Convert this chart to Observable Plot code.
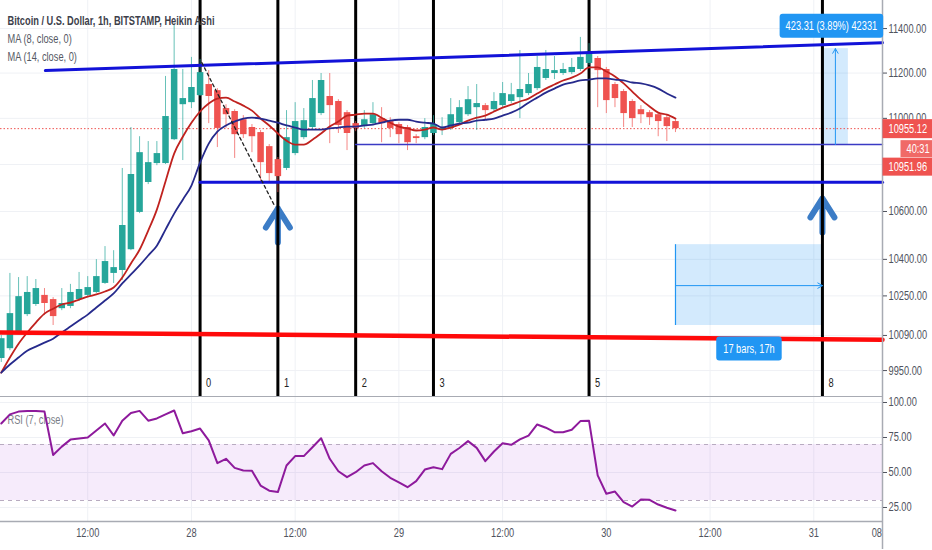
<!DOCTYPE html>
<html>
<head>
<meta charset="utf-8">
<script src="https://cdn.jsdelivr.net/npm/d3@7"></script>
<script src="https://cdn.jsdelivr.net/npm/@observablehq/plot@0.6"></script>
<style>
  html, body { margin: 0; padding: 0; background: #fff; }
  #chart { width: 932px; height: 550px; overflow: hidden; }
  #chart svg { display: block; }
</style>
</head>
<body>
<div id="chart"></div>
<script>
// ---------- DATA (hourly Heikin Ashi candles, index 0 = 27th 02:00) ----------
const candleOpen = [9998,10037,10102,10174,10215,10252,10235,10198,10207,10235,
  10252,10264,10301,10342,10354,10440,10596,10723,10804,10804,
  10907,11060,11069,11100,11149,11122,11043,11030,10994,10960,
  10938,10877,10821,10783,10847,10916,10960,11021,11096,11074,
  11025,10977,10964,10977,10999,10986,10973,10960,10920,10916,
  10934,10947,10956,10981,11016,11047,11056,11038,11056,11074,
  11091,11109,11131,11176,11198,11198,11202,11216,11243,11265,
  11216,11149,11118,11074,11038,11025,11016,11003,10986];
const candleClose = [10077,10178,10247,10264,10280,10219,10166,10219,10264,10276,
  10284,10329,10391,10366,10541,10757,10851,10808,10847,11008,
  11216,11087,11136,11202,11096,10956,11016,10929,10929,10920,
  10808,10761,10748,10916,10986,10990,11087,11167,11056,10969,
  10934,10956,10994,11016,10977,10956,10929,10894,10912,10960,
  10973,10956,11016,11047,11082,11065,11034,11074,11109,11104,
  11127,11149,11225,11216,11211,11216,11225,11270,11288,11211,
  11078,11087,11021,10999,11016,11003,10986,10964,10955];
const candleHigh = [10090,10342,10325,10329,10317,10280,10243,10280,10297,10346,
  10329,10399,10453,10436,10783,10960,10920,10899,10899,11185,
  11414,11216,11270,11261,11211,11131,11060,11038,11012,10973,
  10947,10886,10830,11034,11069,11043,11167,11198,11198,11082,
  11034,10986,11034,11069,11047,11003,10981,10969,10929,10999,
  11012,11003,11087,11078,11140,11149,11065,11113,11158,11154,
  11301,11198,11274,11301,11274,11243,11265,11360,11332,11274,
  11225,11158,11127,11082,11056,11034,11025,11012,10994];
const candleLow = [9982,10029,10094,10166,10207,10170,10130,10190,10198,10227,
  10243,10260,10297,10301,10313,10436,10591,10714,10795,10800,
  10903,10817,11043,11096,10977,10873,10956,10826,10912,10851,
  10719,10723,10680,10774,10838,10907,10951,11012,10890,10934,
  10860,10942,10956,10969,10894,10916,10890,10860,10890,10907,
  10925,10925,10947,10973,11008,10947,10994,11030,11047,11065,
  10999,11100,11122,11167,11171,11189,11193,11207,11234,11047,
  11021,11047,10960,10960,10977,10969,10920,10899,10938];
const ma8 = [9942,10002,10057,10102,10142,10178,10198,10215,10223,10235,
  10247,10256,10268,10284,10325,10383,10440,10520,10608,10727,
  10847,10920,10981,11030,11065,11087,11091,11074,11056,11034,
  10999,10969,10934,10903,10886,10886,10907,10934,10964,10986,
  11012,11016,11021,11021,11003,10981,10964,10956,10947,10951,
  10960,10951,10960,10973,10990,11003,11012,11030,11047,11060,
  11074,11087,11109,11131,11149,11167,11180,11198,11225,11225,
  11207,11185,11154,11118,11082,11052,11025,11016,10999];
const ma14 = [9942,9974,10002,10029,10045,10061,10077,10102,10126,10150,
  10174,10203,10231,10260,10301,10338,10375,10416,10457,10524,
  10591,10650,10710,10808,10890,10942,10969,10986,10999,11003,
  10999,10990,10981,10969,10960,10951,10951,10951,10956,10960,
  10964,10964,10969,10973,10981,10990,10994,10994,10986,10981,
  10977,10960,10969,10977,10981,10990,10994,10999,11012,11025,
  11043,11069,11091,11113,11131,11149,11158,11167,11171,11176,
  11176,11171,11167,11158,11154,11145,11131,11109,11091];
const rsi7 = [85,91.5,93.5,94,94,93.5,62.5,68.5,73.5,74.3,
  75,80,85,76.5,87,92.5,94,87,88.6,91.5,
  94.3,78,79.5,81.4,73,56.7,59.8,53.3,51.4,51.2,
  40.7,37,36,55,61.7,61.7,68,74.5,59.8,50.9,
  46.7,50.2,55,56.7,50.9,46.2,43,39.5,43.8,52.1,
  53.8,52.4,63.3,67.5,72.4,67.6,58.1,65,70.9,69.8,
  73.6,76.4,84.3,82,78.8,78.8,80.5,86.7,86.9,47.9,
  34.8,36.4,28.8,25.7,30.7,30.5,27.1,24.8,22.9];

const timeTickIdx = [10, 22, 34, 46, 58, 70, 82, 94];
const timeTickLabels = ["12:00", "28", "12:00", "29", "12:00", "30", "12:00", "31"];
const lastTickIdx = 102, lastTickLabel = "08";
const priceTicks = [11400, 11200, 11000, 10800, 10600, 10400, 10250, 10090, 9950];
const rsiTicks = [100, 75, 50, 25];
const rsiBand = [30, 70];
const fibIndex = [23, 32, 41, 50, 68, 95];
const fibLabels = ["0", "1", "2", "3", "5", "8"];

const topTrend = [{i: 5.1, p: 11211}, {i: 101.95, p: 11336}];
const supportLine = [{i: 23, p: 10724}, {i: 101.95, p: 10724}];
const neckLine = [{i: 41, p: 10886}, {i: 101.95, p: 10886}];
const redTrend = [{i: -0.09, p: 10102}, {i: 101.95, p: 10073}];
const dashedPath = [{i: 23.2, p: 11247}, {i: 31.6, p: 10625}];
const upArrows = [{i: 32, p: 10470}, {i: 95, p: 10512}];
const priceMeasure = {i1: 95, i2: 98, p1: 10886, p2: 11309.31, label: "423.31 (3.89%) 42331"};
const barsMeasure = {i1: 78, i2: 95, p1: 10130, p2: 10461, pm: 10292, label: "17 bars, 17h"};
const lastPrice = 10955.12, countdown = "40:31", secondPrice = 10951.96;
const titleLines = ["Bitcoin / U.S. Dollar, 1h, BITSTAMP, Heikin Ashi", "MA (8, close, 0)", "MA (14, close, 0)"];

// ---------- VIEW ----------
const timeView = [-0.09, 101.95];
const priceView = [9844, 11528];
const rsiView = [15, 103.57];
const FONT = '"Liberation Sans", Arial, sans-serif';
const NARROW = 0.74;
const FS = 12.5;
const GRID = "#eff1f5", AXIS = "#a8abb3", TXT = "#50535e";
const TEAL = "#26a69a", RED = "#ef5350";

const idx = d3.range(candleOpen.length);
const candles = idx.map(i => ({i, open: candleOpen[i], close: candleClose[i], high: candleHigh[i], low: candleLow[i]}));
const ma8Data = idx.map(i => ({i, v: ma8[i]}));
const ma14Data = idx.map(i => ({i, v: ma14[i]}));
const rsiData = idx.map(i => ({i, v: rsi7[i]}));
const candleColor = d => d.close >= d.open ? TEAL : RED;

const chevron = {
  draw(context, l) {
    context.moveTo(0, 0);
    context.lineTo(0, -l);
    context.moveTo(-12, -l + 19);
    context.lineTo(0, -l);
    context.lineTo(12, -l + 19);
  }
};

const main = Plot.plot({
  width: 932, height: 397,
  marginTop: 0, marginRight: 50, marginBottom: 0, marginLeft: 0,
  x: {domain: timeView, axis: null},
  y: {type: "log", domain: priceView, axis: null},
  color: {type: "identity"},
  style: {fontFamily: FONT, fontSize: FS + "px", background: "#fff"},
  marks: [
    Plot.ruleY(priceTicks, {stroke: GRID}),
    Plot.ruleX(timeTickIdx, {stroke: GRID}),
    // measurement boxes
    Plot.rect([barsMeasure], {x1: "i1", x2: "i2", y1: "p1", y2: "p2", fill: "#2196f3", fillOpacity: 0.2}),
    Plot.rect([priceMeasure], {x1: "i1", x2: "i2", y1: "p1", y2: "p2", fill: "#2196f3", fillOpacity: 0.2}),
    Plot.ruleX([barsMeasure], {x: "i1", y1: "p1", y2: "p2", stroke: "#2196f3", strokeWidth: 1.2}),
    // last price dotted line
    Plot.ruleY([lastPrice], {stroke: RED, strokeDasharray: "1.5,2", strokeWidth: 1}),
    // big up arrows
    Plot.vector(upArrows, {x: "i", y: "p", length: 34, rotate: 0, anchor: "start", shape: chevron,
      stroke: "#3b7cc6", strokeWidth: 6, strokeLinecap: "round", strokeLinejoin: "round"}),
    // fibonacci time zones
    Plot.ruleX(fibIndex, {stroke: "#000", strokeWidth: 3}),
    // candles
    Plot.ruleX(candles, {x: "i", y1: "low", y2: "high", stroke: candleColor, strokeOpacity: 0.7, strokeWidth: 1}),
    Plot.ruleX(candles, {x: "i", y1: "open", y2: "close", stroke: candleColor, strokeWidth: 6.5}),
    // moving averages
    Plot.line(ma8Data, {x: "i", y: "v", stroke: "#c0221f", strokeWidth: 1.8, curve: "monotone-x"}),
    Plot.line(ma14Data, {x: "i", y: "v", stroke: "#262a8c", strokeWidth: 1.8, curve: "monotone-x"}),
    // trend lines
    Plot.line(redTrend, {x: "i", y: "p", stroke: "#ff0a0a", strokeWidth: 4.5}),
    Plot.line(topTrend, {x: "i", y: "p", stroke: "#1212d8", strokeWidth: 3}),
    Plot.line(supportLine, {x: "i", y: "p", stroke: "#1212d8", strokeWidth: 3}),
    Plot.line(neckLine, {x: "i", y: "p", stroke: "#3a3ac4", strokeWidth: 1.4}),
    Plot.line(dashedPath, {x: "i", y: "p", stroke: "#222", strokeWidth: 1.3, strokeDasharray: "3,3"}),
    // measurement arrows
    Plot.arrow([barsMeasure], {x1: "i1", x2: "i2", y1: "pm", y2: "pm", stroke: "#2196f3", strokeWidth: 1, headLength: 8}),
    Plot.arrow([priceMeasure], {x1: d => (d.i1 + d.i2) / 2, x2: d => (d.i1 + d.i2) / 2, y1: "p1", y2: "p2", stroke: "#2196f3", strokeWidth: 1, headLength: 8}),
    // fib labels
    Plot.text(fibIndex, {x: d => d, text: (d, i) => fibLabels[i], frameAnchor: "bottom", dx: 6, dy: -11, textAnchor: "start", fill: "#222", fontSize: FS}),
    // right axis
    Plot.ruleX([timeView[1]], {stroke: AXIS, strokeWidth: 1.5}),
    Plot.axisY(priceTicks, {anchor: "right", label: null, tickFormat: d => d.toFixed(2), tickSize: 4, tickPadding: 2, color: TXT, fontSize: FS}),
    Plot.ruleY([priceView[0]], {stroke: AXIS, strokeWidth: 3}),
    // price labels on axis
    Plot.text([lastPrice], {x: () => timeView[1], y: d => d, text: d => d.toFixed(2), dx: 6, textAnchor: "start", fill: "white", fontSize: FS}),
    Plot.text([countdown], {x: () => timeView[1], y: () => lastPrice, text: d => d, dx: 24, dy: 20, textAnchor: "start", fill: "white", fontSize: FS}),
    Plot.text([secondPrice], {x: () => timeView[1], y: () => lastPrice, text: d => d.toFixed(2), dx: 6, dy: 38, textAnchor: "start", fill: "white", fontSize: FS}),
    // measurement labels
    Plot.text([priceMeasure], {x: d => (d.i1 + d.i2) / 2, y: "p2", text: "label", dy: -23, dx: -4, fill: "white", fontSize: FS}),
    Plot.text([barsMeasure], {x: d => (d.i1 + d.i2) / 2, y: "p1", text: "label", dy: 23, fill: "white", fontSize: FS}),
    // legend
    Plot.text([titleLines[0]], {text: d => d, frameAnchor: "top-left", dx: 7, dy: 16, textAnchor: "start", fill: "#3d404a", fontSize: FS, fontWeight: 600}),
    Plot.text([titleLines[1]], {text: d => d, frameAnchor: "top-left", dx: 7, dy: 34, textAnchor: "start", fill: "#555863", fontSize: FS}),
    Plot.text([titleLines[2]], {text: d => d, frameAnchor: "top-left", dx: 7, dy: 52, textAnchor: "start", fill: "#555863", fontSize: FS})
  ]
});

const rsiPlot = Plot.plot({
  width: 932, height: 153,
  marginTop: 0, marginRight: 50, marginBottom: 29, marginLeft: 0,
  x: {domain: timeView, axis: null},
  y: {domain: rsiView, axis: null},
  style: {fontFamily: FONT, fontSize: FS + "px", background: "#fff"},
  marks: [
    Plot.ruleX(timeTickIdx, {stroke: GRID}),
    Plot.ruleY(rsiTicks, {stroke: GRID}),
    Plot.rect([rsiBand], {x1: () => timeView[0], x2: () => timeView[1], y1: d => d[0], y2: d => d[1], fill: "#a63fd6", fillOpacity: 0.1}),
    Plot.ruleY(rsiBand, {stroke: "#b8abc0", strokeDasharray: "4,4", strokeWidth: 1.2}),
    Plot.text(["RSI (7, close)"], {text: d => d, frameAnchor: "top-left", dx: 7, dy: 18, textAnchor: "start", fill: "#7a7d87", fontSize: FS}),
    Plot.line(rsiData, {x: "i", y: "v", stroke: "#8e1a9c", strokeWidth: 2}),
    Plot.ruleY([rsiView[0]], {stroke: AXIS, strokeWidth: 1.5}),
    Plot.ruleX([timeView[1]], {y1: rsiView[1], y2: -5, stroke: AXIS, strokeWidth: 1.5}),
    Plot.axisY(rsiTicks, {anchor: "right", label: null, tickFormat: d => d.toFixed(2), tickSize: 4, tickPadding: 2, color: TXT, fontSize: FS}),
    Plot.text(timeTickIdx, {x: d => d, text: (d, i) => timeTickLabels[i], frameAnchor: "bottom", dy: 15, fill: TXT, fontSize: FS}),
    Plot.text([lastTickIdx], {x: d => d, text: () => lastTickLabel, frameAnchor: "bottom", dy: 15, dx: -1, textAnchor: "end", fill: TXT, fontSize: FS})
  ]
});

const chart = document.getElementById("chart");
chart.append(main, rsiPlot);

// narrow the glyphs horizontally, like the reference's condensed UI font
function narrowTexts(svg) {
  svg.querySelectorAll("text").forEach(t => {
    const w = t.getComputedTextLength();
    if (w > 0) {
      t.setAttribute("textLength", (w * NARROW).toFixed(2));
      t.setAttribute("lengthAdjust", "spacingAndGlyphs");
    }
  });
}
narrowTexts(main);
narrowTexts(rsiPlot);

const boxSpecs = {
  [lastPrice.toFixed(2)]: {fill: RED, padL: 6, width: 50, padY: 2.5, rx: 0},
  [secondPrice.toFixed(2)]: {fill: RED, padL: 6, width: 50, padY: 2, rx: 0},
  [countdown]: {fill: "#f06a67", padL: 6, width: 32, padY: 1.5, rx: 0},
  [priceMeasure.label]: {fill: "#2196f3", padL: 6, padR: 6, padY: 5, rx: 3},
  [barsMeasure.label]: {fill: "#2196f3", padL: 7, padR: 7, padY: 5, rx: 3}
};
function addBoxes(svg) {
  svg.querySelectorAll("text").forEach(t => {
    const spec = boxSpecs[t.textContent];
    if (!spec) return;
    const b = t.getBBox();
    const r = document.createElementNS("http://www.w3.org/2000/svg", "rect");
    const w = spec.width !== undefined ? spec.width : b.width + spec.padL + spec.padR;
    r.setAttribute("x", b.x - spec.padL);
    r.setAttribute("y", b.y - spec.padY);
    r.setAttribute("width", w);
    r.setAttribute("height", b.height + 2 * spec.padY);
    r.setAttribute("rx", spec.rx);
    r.setAttribute("fill", spec.fill);
    const tr = t.getAttribute("transform");
    if (tr) r.setAttribute("transform", tr);
    t.parentNode.insertBefore(r, t);
  });
}
addBoxes(main);
addBoxes(rsiPlot);
</script>
</body>
</html>
